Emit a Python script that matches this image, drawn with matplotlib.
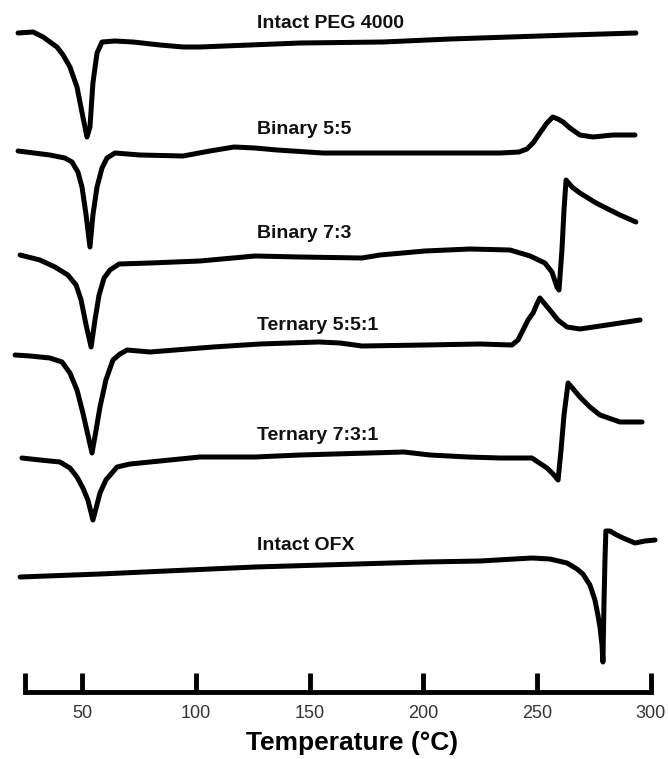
import matplotlib
matplotlib.use("Agg")
import matplotlib.pyplot as plt

# ---------------- data (temperature in °C, heat flow in arbitrary stacked units) ----------------
peg_T = [21.9, 28.5, 32.9, 39.0, 41.7, 44.7, 47.8, 50.4, 52.2, 53.5, 54.8, 56.6, 58.8,
         64.5, 72.4, 84.3, 94.4, 101.8, 123.8, 145.8, 182.3, 211.7, 238.1, 264.5, 293.4]
peg_H = [659, 660, 655, 645, 637, 625, 605, 575, 555, 565, 609, 639, 650,
         651, 650, 647, 645, 645, 647, 649, 650, 653, 655, 657, 659]

b55_T = [21.9, 35.9, 42.5, 45.6, 48.2, 50.0, 51.8, 53.5, 54.8, 56.6, 58.8, 61.0, 64.5,
         75.5, 94.4, 106.2, 116.8, 126.0, 135.7, 155.9, 200.7, 233.7, 242.0, 245.5,
         248.2, 251.2, 254.3, 256.9, 259.1, 261.4, 264.4, 268.8, 274.5, 283.3, 293.0]
b55_H = [541, 537, 534, 530, 520, 505, 477, 445, 477, 505, 524, 534, 539,
         537, 536, 541, 545, 544, 542, 539, 539, 539, 540, 543,
         549, 559, 569, 575, 573, 570, 564, 557, 555, 557, 557]

b73_T = [22.8, 31.5, 38.1, 43.8, 47.4, 49.6, 51.8, 54.0, 55.7, 57.5, 59.7, 62.3, 66.3,
         79.9, 101.8, 126.0, 145.8, 173.0, 180.9, 200.7, 220.5, 238.1, 246.9, 253.4,
         256.5, 258.7, 259.6, 260.9, 261.8, 262.7, 265.3, 268.8, 275.9, 282.0, 286.4, 293.4]
b73_H = [437, 432, 425, 417, 407, 392, 367, 345, 372, 397, 414, 422, 428,
         429, 431, 436, 435, 434, 437, 441, 443, 442, 436, 429,
         420, 405, 402, 442, 482, 512, 505, 499, 489, 482, 477, 470]

t551_T = [20.6, 27.2, 35.9, 41.2, 44.7, 47.8, 50.4, 52.6, 54.4, 56.2, 57.9, 60.5, 63.6,
          66.7, 69.8, 79.9, 107.6, 128.2, 154.1, 163.4, 173.0, 200.7, 224.9, 238.9,
          241.6, 243.8, 246.0, 248.2, 249.9, 251.2, 253.4, 255.6, 259.1, 263.1, 268.8,
          280.7, 295.2]
t551_H = [337, 336, 334, 330, 319, 302, 279, 257, 239, 262, 285, 312, 332,
          338, 342, 340, 345, 348, 350, 349, 346, 347, 348, 347,
          352, 362, 372, 379, 388, 394, 388, 382, 372, 365, 363,
          367, 372]

t731_T = [23.6, 31.5, 40.3, 44.7, 47.8, 50.4, 52.6, 54.8, 56.2, 57.9, 60.5, 65.4, 71.1,
          79.9, 101.8, 126.0, 145.8, 191.5, 202.9, 219.6, 233.7, 247.7, 254.3, 257.0,
          259.2, 260.5, 261.8, 263.6, 266.2, 268.8, 273.2, 277.6, 286.4, 296.1]
t731_H = [234, 232, 230, 224, 215, 204, 192, 172, 184, 199, 212, 225, 228,
          230, 235, 235, 237, 240, 237, 235, 234, 234, 224, 218,
          212, 242, 277, 309, 302, 295, 285, 277, 270, 270]

ofx_T = [22.8, 57.9, 126.0, 200.7, 224.9, 247.7, 255.6, 263.1, 267.5, 270.1, 273.2,
         275.4, 276.7, 277.6, 278.5, 278.9, 279.4, 279.8, 280.2, 282.0, 284.2, 287.7,
         293.0, 297.4, 301.8]
ofx_H = [115, 118, 125, 130, 131, 134, 133, 129, 123, 118, 107,
         92, 77, 65, 47, 30, 92, 132, 161, 161, 158, 154,
         149, 151, 152]

series = [
    ("Intact PEG 4000", peg_T, peg_H, 668),
    ("Binary 5:5", b55_T, b55_H, 562),
    ("Binary 7:3", b73_T, b73_H, 458),
    ("Ternary 5:5:1", t551_T, t551_H, 366),
    ("Ternary 7:3:1", t731_T, t731_H, 256),
    ("Intact OFX", ofx_T, ofx_H, 146),
]

tick_values = [25, 50, 100, 150, 200, 250, 300]
tick_labels = ["", "50", "100", "150", "200", "250", "300"]
x_label = "Temperature (°C)"

# ---------------- figure ----------------
plt.rcParams['font.family'] = ['Liberation Sans', 'DejaVu Sans']
fig = plt.figure(figsize=(6.68, 7.59), dpi=100)
ax = fig.add_axes([0.0, 67 / 759, 1.0, 692 / 759])
ax.set_xlim(13.97, 307.5)
ax.set_ylim(0, 692)

label_x = 126.9
for name, T, H, ty in series:
    ax.plot(T, H, color='black', lw=3.6, solid_joinstyle='round', solid_capstyle='round')
    ax.text(label_x, ty, name, fontsize=14, fontweight='bold', ha='left', va='center',
            color='#111111')

for s in ['left', 'right', 'top']:
    ax.spines[s].set_visible(False)
ax.spines['bottom'].set_linewidth(3.5)
ax.spines['bottom'].set_bounds(25, 300)
ax.spines['bottom'].set_capstyle('projecting')
ax.set_yticks([])
ax.set_xticks(tick_values)
ax.set_xticklabels(tick_labels)
ax.tick_params(axis='x', direction='in', length=14, width=3.5, pad=9,
               labelsize=13, labelcolor='#333333', color='black')
ax.set_xlabel(x_label, fontsize=19, fontweight='bold', labelpad=7)
ax.xaxis.label.set_x(352 / 668)
ax.patch.set_visible(False)

fig.savefig("out.png", dpi=100)
